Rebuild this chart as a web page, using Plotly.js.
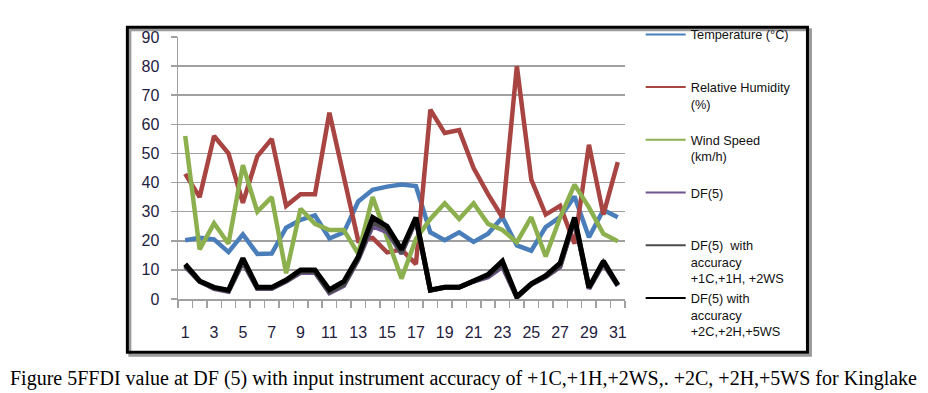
<!DOCTYPE html>
<html>
<head>
<meta charset="utf-8">
<script src="https://cdn.plot.ly/plotly-3.0.1.min.js"></script>
<style>html,body{margin:0;padding:0;background:#fff;}#chart{width:928px;height:393px;}</style>
</head>
<body>
<div id="chart"></div>
<script>
const days = [1,2,3,4,5,6,7,8,9,10,11,12,13,14,15,16,17,18,19,20,21,22,23,24,25,26,27,28,29,30,31];
const temperature = [20.2,21,20.5,16.1,22.2,15.5,15.6,24.5,27.2,28.7,20.8,22.9,33.5,37.5,38.6,39.3,38.8,22.9,20.2,22.9,19.6,22.4,28.1,18.4,16.6,24.7,28.1,35.2,21.2,30.6,28.1];
const humidity = [43,35,56,50,33,49,55,32,36,36,64,42,20,21,16,17,12,65,57,58,45,36,28,80,41,29,32,19,53,29,47];
const windSpeed = [56,17,26,19,46,30,35,8.8,31,25.8,23.7,23.7,15.5,35,21,7,20.6,27.5,32.9,27.5,32.9,25.8,23.7,19.5,28.1,14.6,28,39.3,31.5,22.4,19.8];
const df5 = [11,6,3.5,2.5,12.5,3.5,3.5,6,9,9,2,4.5,13.5,25,23,15.5,27,3,4,4,6,7.5,11,0.5,5,7.5,11,27,3.5,12,4.5];
const df5Acc1 = [11.5,6,3.8,2.8,13,3.8,3.8,6.2,9.5,9.5,2.5,5,14,26.5,24,16,27.5,3,4,4,6.2,8,12,0.6,5.1,7.8,11.5,27.5,3.8,12.5,4.8];
const df5Acc2 = [12,6.2,4,3,14,4,4,6.5,10,10,3.2,6,14.5,28,25,17,28,3.1,4,4,6.2,8.4,13,0.8,5.2,8,12.3,28,4,13,4.8];
const yTicks = [0,10,20,30,40,50,60,70,80,90];
const xTickLabels = [1,3,5,7,9,11,13,15,17,19,21,23,25,27,29,31];

const seriesNames = [
  'Temperature (°C)<br> <br> ',
  'Relative Humidity<br>(%)<br> ',
  'Wind Speed<br>(km/h)<br> ',
  'DF(5)<br> <br> ',
  'DF(5)  with<br>accuracy<br>+1C,+1H, +2WS',
  'DF(5) with<br>accuracy<br>+2C,+2H,+5WS'
];
const seriesData = [temperature, humidity, windSpeed, df5, df5Acc1, df5Acc2];
const colors = ['#4A7EBB', '#A84442', '#8DB04F', '#6F5590', '#4A4A4A', '#000000'];
const widths = [4.5, 4.5, 4.5, 4.5, 5, 5];

const traces = [];
seriesData.forEach((ys, i) => {
  traces.push({
    x: days, y: ys, type: 'scatter', mode: 'lines',
    line: {color: colors[i], width: widths[i]},
    showlegend: false, hoverinfo: 'skip'
  });
});
seriesData.forEach((ys, i) => {
  traces.push({
    x: [null], y: [null], type: 'scatter', mode: 'lines',
    name: seriesNames[i],
    line: {color: colors[i], width: 2}, showlegend: true
  });
});

const L = 177.7, R = 625.3, T = 36.7, B = 298.7;
const px = v => (v - L) / (R - L);
const py = v => (B - v) / (B - T);

const layout = {
  width: 928, height: 393,
  margin: {l: L, r: 928 - R, t: T, b: 393 - B, pad: 0},
  paper_bgcolor: '#fff', plot_bgcolor: '#fff',
  showlegend: true,
  legend: {
    x: px(641), y: py(19.3), xanchor: 'left', yanchor: 'top',
    font: {family: 'Liberation Sans, Arial, sans-serif', size: 12.75, color: '#111'},
    valign: 'top', bgcolor: 'rgba(0,0,0,0)', traceorder: 'normal',
    itemwidth: 40, maxheight: 380
  },
  xaxis: {
    type: 'linear', range: [0.5, 31.5], fixedrange: true,
    tickmode: 'array', tickvals: xTickLabels, ticktext: xTickLabels.map(String),
    ticks: '', showgrid: false, zeroline: false,
    showline: true, linecolor: '#A0A0A0', linewidth: 1.5,
    tickfont: {family: 'Liberation Sans, Arial, sans-serif', size: 16, color: '#1F2140'},
    ticklabelstandoff: 18,
    minor: {tick0: 0.5, dtick: 1, ticks: 'outside', ticklen: 7, tickcolor: '#A0A0A0', tickwidth: 1.5, showgrid: false}
  },
  yaxis: {
    range: [0, 90], fixedrange: true,
    tickmode: 'array', tickvals: yTicks,
    ticks: 'outside', ticklen: 6, tickcolor: '#A0A0A0', tickwidth: 1.5,
    showgrid: true, gridcolor: '#A0A0A0', gridwidth: 1.5, zeroline: false,
    showline: true, linecolor: '#A0A0A0', linewidth: 1.5,
    tickfont: {family: 'Liberation Sans, Arial, sans-serif', size: 16, color: '#1F2140'},
    ticklabelstandoff: 8
  },
  shapes: [
    {type: 'rect', xref: 'paper', yref: 'paper', x0: px(129.5), x1: px(811), y0: py(29.5), y1: py(355), line: {color: '#9A9A9A', width: 3}, layer: 'below'},
    {type: 'rect', xref: 'paper', yref: 'paper', x0: px(127), x1: px(808), y0: py(27), y1: py(352), line: {color: '#000', width: 3}, fillcolor: 'rgba(0,0,0,0)', layer: 'below'}
  ],
  annotations: [
    {xref: 'paper', yref: 'paper', x: px(464), y: py(378), xanchor: 'center', yanchor: 'middle', showarrow: false,
     text: 'Figure 5FFDI value at DF (5) with input instrument accuracy of +1C,+1H,+2WS,. +2C, +2H,+5WS for Kinglake',
     font: {family: 'Liberation Serif, Times New Roman, serif', size: 20, color: '#000'}}
  ]
};

Plotly.newPlot('chart', traces, layout, {staticPlot: true, displayModeBar: false});
</script>
</body>
</html>
